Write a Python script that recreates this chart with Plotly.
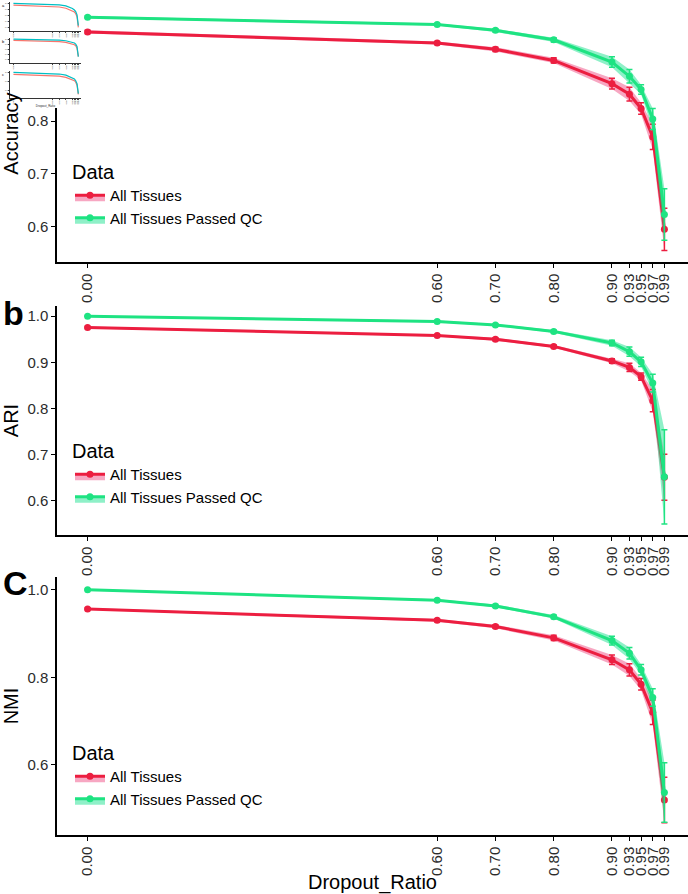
import plotly.graph_objects as go

# ---------------- data ----------------
dropout = [0.00, 0.60, 0.70, 0.80, 0.90, 0.93, 0.95, 0.97, 0.99]
tick_labels = ["0.00", "0.60", "0.70", "0.80", "0.90", "0.93", "0.95", "0.97", "0.99"]
series_names = ["All Tissues", "All Tissues Passed QC"]

acc_all = [0.969, 0.948, 0.936, 0.915, 0.871, 0.851, 0.824, 0.770, 0.595]
acc_all_err = [0.003, 0.003, 0.004, 0.005, 0.010, 0.013, 0.011, 0.024, 0.040]
acc_qc = [0.997, 0.983, 0.972, 0.954, 0.912, 0.885, 0.860, 0.804, 0.623]
acc_qc_err = [0.002, 0.002, 0.003, 0.004, 0.010, 0.013, 0.009, 0.020, 0.049]

ari_all = [0.9755, 0.958, 0.950, 0.9345, 0.903, 0.889, 0.869, 0.817, 0.651]
ari_all_err = [0.002, 0.002, 0.003, 0.003, 0.005, 0.009, 0.008, 0.024, 0.050]
ari_qc = [1.000, 0.9885, 0.981, 0.967, 0.942, 0.923, 0.901, 0.855, 0.652]
ari_qc_err = [0.001, 0.002, 0.002, 0.003, 0.006, 0.010, 0.010, 0.019, 0.102]

nmi_all = [0.956, 0.930, 0.916, 0.890, 0.840, 0.817, 0.784, 0.720, 0.520]
nmi_all_err = [0.002, 0.003, 0.004, 0.006, 0.011, 0.014, 0.013, 0.028, 0.052]
nmi_qc = [1.000, 0.976, 0.963, 0.938, 0.884, 0.855, 0.817, 0.754, 0.537]
nmi_qc_err = [0.001, 0.002, 0.003, 0.004, 0.010, 0.013, 0.012, 0.020, 0.068]

metric_titles = ["Accuracy", "ARI", "NMI"]
panel_letters = ["a", "b", "C"]

# ---------------- style ----------------
W, H = 688, 894
line_colors = ["#EC1E40", "#1EE382"]
fill_colors = ["rgba(237,46,110,0.42)", "rgba(6,222,133,0.45)"]
mini_colors = ["#F8766D", "#00BFC4"]
FONT = "Liberation Sans, Arial, sans-serif"
TXT = "#2b2b2b"

def fx(px):
    return px / W

def fy(px):
    return 1 - px / H

panels = [
    dict(vals=[acc_all, acc_qc], errs=[acc_all_err, acc_qc_err],
         yrange=[0.533, 1.020], tickvals=[0.6, 0.7, 0.8, 0.9, 1.0],
         top=5, bottom=262, legend_top=153),
    dict(vals=[ari_all, ari_qc], errs=[ari_all_err, ari_qc_err],
         yrange=[0.526, 1.022], tickvals=[0.6, 0.7, 0.8, 0.9, 1.0],
         top=306, bottom=535, legend_top=432),
    dict(vals=[nmi_all, nmi_qc], errs=[nmi_all_err, nmi_qc_err],
         yrange=[0.440, 1.029], tickvals=[0.6, 0.8, 1.0],
         top=577, bottom=835, legend_top=734),
]
legend_ids = ["legend", "legend2", "legend3"]
xrange_main = [-0.0525, 1.0305]

fig = go.Figure()
layout = dict(
    width=W, height=H, margin=dict(l=0, r=0, t=0, b=0),
    paper_bgcolor="white", plot_bgcolor="white", template="none",
    font=dict(family=FONT, color=TXT), showlegend=True,
    annotations=[],
)

for i, p in enumerate(panels):
    k = i + 1
    xa = "x" if k == 1 else f"x{k}"
    ya = "y" if k == 1 else f"y{k}"
    for s in range(2):
        v = p["vals"][s]
        e = p["errs"][s]
        upper = [a + b for a, b in zip(v, e)]
        lower = [a - b for a, b in zip(v, e)]
        fig.add_trace(go.Scatter(x=dropout, y=upper, mode="lines", line=dict(width=0, color=line_colors[s]),
                                 showlegend=False, hoverinfo="skip", xaxis=xa, yaxis=ya))
        fig.add_trace(go.Scatter(
            x=dropout, y=v, mode="lines+markers", name=series_names[s],
            fill="tonexty", fillcolor=fill_colors[s],
            line=dict(color=line_colors[s], width=3),
            marker=dict(color=line_colors[s], size=7),
            error_y=dict(type="data", array=e, visible=True, color=line_colors[s], thickness=1.5, width=3),
            legend=legend_ids[i], xaxis=xa, yaxis=ya))
        fig.add_trace(go.Scatter(x=dropout, y=lower, mode="lines", line=dict(width=0, color=line_colors[s]),
                                 fill="tonexty", fillcolor=fill_colors[s],
                                 showlegend=False, hoverinfo="skip", xaxis=xa, yaxis=ya))

    xkey = "xaxis" if k == 1 else f"xaxis{k}"
    ykey = "yaxis" if k == 1 else f"yaxis{k}"
    layout[xkey] = dict(
        domain=[fx(57), 1], range=xrange_main, anchor=ya,
        tickmode="array", tickvals=dropout, ticktext=tick_labels, tickangle=-90,
        tickfont=dict(size=15, color=TXT, family=FONT),
        showline=True, linecolor="black", linewidth=1.5, ticks="outside", ticklen=4,
        tickcolor="black", tickwidth=1, showgrid=False, zeroline=False, automargin=False,
        title=dict(text="Dropout_Ratio" if k == 3 else "", font=dict(size=20, color="black"), standoff=6),
    )
    layout[ykey] = dict(
        domain=[fy(p["bottom"]), fy(p["top"])], range=p["yrange"], anchor=xa,
        tickmode="array", tickvals=p["tickvals"], tickformat=".1f",
        tickfont=dict(size=15, color=TXT, family=FONT),
        showline=True, linecolor="black", linewidth=1.5, ticks="outside", ticklen=4,
        tickcolor="black", tickwidth=1, showgrid=False, zeroline=False, automargin=False,
        title=dict(text=metric_titles[i], font=dict(size=20, color="black"), standoff=6),
    )
    layout[legend_ids[i]] = dict(
        x=fx(70), xanchor="left", y=fy(p["legend_top"]), yanchor="top",
        bgcolor="rgba(0,0,0,0)", font=dict(size=15, color="black", family=FONT),
        title=dict(text="Data", font=dict(size=20, color="black", family=FONT)),
        tracegroupgap=0, itemwidth=30, traceorder="normal",
    )
    if i > 0:
        cy = {1: 313, 2: 583}[i]
        layout["annotations"].append(dict(
            text=f"<b>{panel_letters[i]}</b>", x=0.001, y=fy(cy), xref="paper", yref="paper",
            xanchor="left", yanchor="middle", showarrow=False,
            font=dict(size=34, color="black", family=FONT)))

# ---------------- thumbnail in the top-left corner ----------------
# white cover subplot
fig.add_trace(go.Scatter(x=[None], y=[None], xaxis="x4", yaxis="y4", showlegend=False, hoverinfo="skip"))
layout["xaxis4"] = dict(domain=[0, fx(84)], visible=False, anchor="y4", range=[0, 1])
layout["yaxis4"] = dict(domain=[fy(108), 1], visible=False, anchor="x4", range=[0, 1])

mini_spans = [(2, 31), (38, 63), (71, 98)]
for i, p in enumerate(panels):
    k = 5 + i
    xa, ya = f"x{k}", f"y{k}"
    for s in range(2):
        fig.add_trace(go.Scatter(x=dropout, y=p["vals"][s], mode="lines",
                                 line=dict(color=mini_colors[s], width=1.2),
                                 showlegend=False, hoverinfo="skip", xaxis=xa, yaxis=ya))
    top, bot = mini_spans[i]
    layout[f"xaxis{k}"] = dict(
        domain=[fx(10), fx(81)], range=xrange_main, anchor=ya,
        tickmode="array", tickvals=dropout, ticktext=tick_labels, tickangle=-90,
        tickfont=dict(size=2, color=TXT), showline=True, linecolor="#333", linewidth=0.6,
        ticks="outside", ticklen=1, tickwidth=0.5, showgrid=False, zeroline=False,
        title=dict(text="Dropout_Ratio" if i == 2 else "", font=dict(size=3), standoff=1),
    )
    layout[f"yaxis{k}"] = dict(
        domain=[fy(bot), fy(top)], range=p["yrange"], anchor=xa,
        tickmode="array", tickvals=p["tickvals"], tickformat=".1f",
        tickfont=dict(size=2, color=TXT), showline=True, linecolor="#333", linewidth=0.6,
        ticks="outside", ticklen=1, tickwidth=0.5, showgrid=False, zeroline=False,
    )
    layout["annotations"].append(dict(
        text=["a", "b", "c"][i], x=0.0, y=fy(top - 1), xref="paper", yref="paper",
        xanchor="left", yanchor="top", showarrow=False, font=dict(size=4, color="black")))

fig.update_layout(**layout)
fig.write_html("out.html")
